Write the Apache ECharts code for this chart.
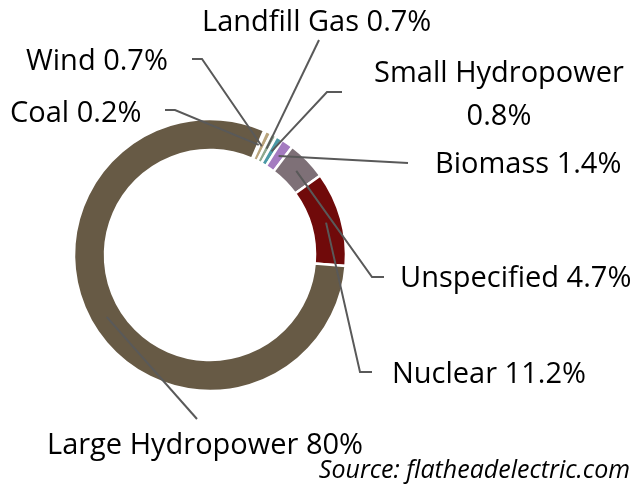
<!DOCTYPE html>
<html>
<head>
<meta charset="utf-8">
<script src="https://cdn.jsdelivr.net/npm/echarts@6/dist/echarts.min.js"></script>
<style>
  html, body { margin: 0; padding: 0; background: #fff; }
  #main { width: 644px; height: 493px; }
</style>
</head>
<body>
<div id="main"></div>
<script>
// data (clockwise from the top)
var names = ['Coal', 'Wind', 'Landfill Gas', 'Small Hydropower', 'Biomass', 'Unspecified', 'Nuclear', 'Large Hydropower'];
var shares = [0.2, 0.7, 0.7, 0.8, 1.4, 4.7, 11.2, 80];
var colors = ['#d6c8a2', '#b9a47c', '#8ea88e', '#4b9aa6', '#a47bc0', '#7e7077', '#700a0a', '#675a45'];

// label placement: [x, y, align] and leader bends [elbow, end]
var labelPos = [
  [10, 114, 'left'],
  [26, 62, 'left'],
  [202, 23, 'left'],
  [499, 95, 'center'],
  [435, 165, 'left'],
  [400, 279, 'left'],
  [392, 375, 'left'],
  [47, 446, 'left']
];
var leaderPts = [
  [[175, 110], [165, 110]],
  [[202, 59], [192, 59]],
  [[319, 40], [319, 40]],
  [[327, 92], [342, 92]],
  [[408, 163], [408, 163]],
  [[372, 277], [384, 277]],
  [[360, 372], [372, 372]],
  [[197, 419], [197, 419]]
];

var cx = 210, cy = 255, r0 = 105, r1 = 136;
var startAngle = 66.5;
var total = shares.reduce(function (a, b) { return a + b; }, 0);

// middle of the ring at each slice's mid angle
function anchor(i) {
  var cum = 0;
  for (var k = 0; k < i; k++) cum += shares[k];
  var a = (startAngle - (cum + shares[i] / 2) / total * 360) * Math.PI / 180;
  var rm = (r0 + r1) / 2;
  return [cx + rm * Math.cos(a), cy - rm * Math.sin(a)];
}

var pieData = names.map(function (n, i) {
  return { name: n, value: shares[i], itemStyle: { color: colors[i] } };
});

var chart = echarts.init(document.getElementById('main'), null, { renderer: 'canvas' });

var option = {
  animation: false,
  title: {
    text: 'Source: flatheadelectric.com',
    right: 9,
    bottom: 5,
    textStyle: {
      fontFamily: 'Open Sans',
      fontStyle: 'italic',
      fontWeight: 'normal',
      fontSize: 25,
      color: '#000'
    }
  },
  series: [{
    // the ring itself
    type: 'pie',
    z: 2,
    center: [cx, cy],
    radius: [r0, r1],
    startAngle: startAngle,
    clockwise: true,
    silent: true,
    itemStyle: { borderColor: '#fff', borderWidth: 2.5 },
    label: { show: false },
    labelLine: { show: false },
    data: pieData
  }, {
    // same slices, invisible, carrying labels and leader lines on top
    type: 'pie',
    z: 3,
    center: [cx, cy],
    radius: [r0, r1],
    startAngle: startAngle,
    clockwise: true,
    silent: true,
    avoidLabelOverlap: false,
    itemStyle: { color: 'rgba(0,0,0,0)', borderWidth: 0 },
    label: {
      show: true,
      fontFamily: 'Open Sans',
      fontSize: 29,
      lineHeight: 43,
      color: '#000',
      formatter: function (p) {
        var sep = p.name === 'Small Hydropower' ? '\n' : ' ';
        return p.name + sep + p.value + '%';
      }
    },
    labelLine: {
      show: true,
      lineStyle: { color: '#595959', width: 2 }
    },
    labelLayout: function (params) {
      var i = params.dataIndex;
      var lp = labelPos[i];
      return {
        x: lp[0],
        y: lp[1],
        align: lp[2],
        verticalAlign: 'middle',
        hideOverlap: false,
        labelLinePoints: [anchor(i), leaderPts[i][0], leaderPts[i][1]]
      };
    },
    data: names.map(function (n, i) {
      return { name: n, value: shares[i] };
    })
  }]
};

chart.setOption(option);
</script>
</body>
</html>
